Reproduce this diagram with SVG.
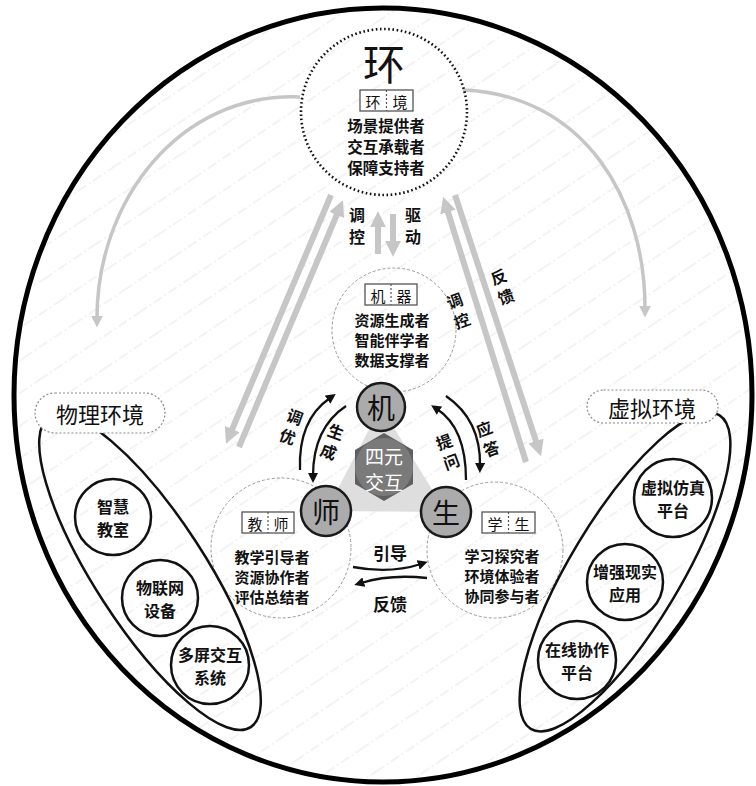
<svg xmlns="http://www.w3.org/2000/svg" width="756" height="786" viewBox="0 0 756 786">
<defs>
<pattern id="hatch" patternUnits="userSpaceOnUse" width="60" height="27" patternTransform="rotate(-34)">
<line x1="0" y1="13" x2="60" y2="13" stroke="#e4e4e4" stroke-width="0.9" stroke-dasharray="10 3 2 3"/>
</pattern>
<marker id="gh" viewBox="0 0 10 10" refX="2" refY="5" markerWidth="16" markerHeight="16" markerUnits="userSpaceOnUse" orient="auto">
<path d="M0,0 L10,5 L0,10 z" fill="#c6c6c6"/>
</marker>
<marker id="gs" viewBox="0 0 10 10" refX="2" refY="5" markerWidth="12" markerHeight="12" markerUnits="userSpaceOnUse" orient="auto">
<path d="M0,0 L10,5 L0,10 z" fill="#c6c6c6"/>
</marker>
<marker id="bh" viewBox="0 0 10 10" refX="3" refY="5" markerWidth="10" markerHeight="10" markerUnits="userSpaceOnUse" orient="auto">
<path d="M0,0 L10,5 L0,10 z" fill="#111"/>
</marker>
<style>
.lbl{font-family:"Noto Sans CJK SC","Noto Sans",sans-serif;font-weight:700;font-size:16px;fill:#111;text-anchor:middle;dominant-baseline:central}
.ln{font-size:15px}
.reg{font-family:"Noto Sans CJK SC","Noto Sans",sans-serif;font-weight:400;fill:#111;text-anchor:middle;dominant-baseline:central}
.big{font-size:28px}
.dash{fill:none;stroke:#9a9a9a;stroke-width:1;stroke-dasharray:3 2}
.role{fill:#fff;stroke:#555;stroke-width:1.3}
.div{stroke:#555;stroke-width:1.2;stroke-dasharray:2 2}
.node{fill:#ababab;stroke:#1a1a1a;stroke-width:2.5}
.item{fill:none;stroke:#111;stroke-width:2.5}
.env{fill:none;stroke:#111;stroke-width:2.5}
.tag{fill:#fff;stroke:#8a8a8a;stroke-width:1.2;stroke-dasharray:2 2}
.garrow{fill:none;stroke:#c6c6c6;stroke-width:6}
.garc{fill:none;stroke:#c6c6c6;stroke-width:3.5}
.barrow{fill:none;stroke:#111;stroke-width:2.3}
</style>
</defs>
<rect width="756" height="786" fill="#fff"/>
<ellipse cx="383" cy="395" rx="369" ry="387" fill="url(#hatch)"/>
<ellipse id="outer" cx="383" cy="395" rx="369" ry="387" fill="none" stroke="#000" stroke-width="5"/>

<g id="connectors">
<line class="garrow" x1="378" y1="254" x2="378" y2="224" marker-end="url(#gh)"/>
<line class="garrow" x1="393" y1="214" x2="393" y2="244" marker-end="url(#gh)"/>
<line class="garrow" x1="331" y1="195" x2="231" y2="432" marker-end="url(#gh)"/>
<line class="garrow" x1="239" y1="447" x2="338" y2="212" marker-end="url(#gh)"/>
<line class="garrow" x1="526" y1="462" x2="447" y2="209" marker-end="url(#gh)"/>
<line class="garrow" x1="455" y1="195" x2="537" y2="444" marker-end="url(#gh)"/>
<path class="garc" d="M300,97 C180,92 97,200 97,318" marker-end="url(#gs)"/>
<path class="garc" d="M463,90 C585,95 645,200 645,308" marker-end="url(#gs)"/>
<path class="barrow" d="M300,470 Q298,420 330,398" marker-end="url(#bh)"/>
<path class="barrow" d="M346,406 Q313,428 313,476" marker-end="url(#bh)"/>
<path class="barrow" d="M466,480 Q466,428 437,409" marker-end="url(#bh)"/>
<path class="barrow" d="M446,396 Q481,420 480,466" marker-end="url(#bh)"/>
<path class="barrow" d="M353,567 Q390,574 421,564" marker-end="url(#bh)"/>
<path class="barrow" d="M427,578 Q390,574 361,583" marker-end="url(#bh)"/>
<text class="lbl"><tspan x="357" y="214">调</tspan><tspan x="357" y="236">控</tspan></text>
<text class="lbl"><tspan x="413" y="214">驱</tspan><tspan x="413" y="236">动</tspan></text>
<text class="lbl" transform="rotate(-20 458 310)"><tspan x="458" y="299.5">调</tspan><tspan x="458" y="320.5">控</tspan></text>
<text class="lbl" transform="rotate(-20 502 286)"><tspan x="502" y="275.5">反</tspan><tspan x="502" y="296.5">馈</tspan></text>
<text class="lbl" transform="rotate(20 291.5 426)"><tspan x="291.5" y="415.5">调</tspan><tspan x="291.5" y="436.5">优</tspan></text>
<text class="lbl" transform="rotate(20 332.5 441)"><tspan x="332.5" y="430.5">生</tspan><tspan x="332.5" y="451.5">成</tspan></text>
<text class="lbl" transform="rotate(-20 447.5 451)"><tspan x="447.5" y="440.5">提</tspan><tspan x="447.5" y="461.5">问</tspan></text>
<text class="lbl" transform="rotate(-20 487.5 438)"><tspan x="487.5" y="427.5">应</tspan><tspan x="487.5" y="448.5">答</tspan></text>
<text class="lbl" x="390" y="552" style="font-size:17px">引导</text>
<text class="lbl" x="390" y="603" style="font-size:17px">反馈</text>
</g>

<g id="env-node">
<circle cx="384" cy="112" r="83" fill="none" stroke="#111" stroke-width="2.6" stroke-dasharray="1.6 2.6"/>
<text class="reg" x="384" y="61" style="font-size:42px">环</text>
<rect class="role" x="360" y="90" width="53" height="21"/>
<line class="div" x1="386.5" y1="90" x2="386.5" y2="111"/>
<text class="reg" style="font-size:15px"><tspan x="373" y="100.5">环</tspan><tspan x="400" y="100.5">境</tspan></text>
<text class="lbl" style="font-size:15.5px"><tspan x="386" y="125">场景提供者</tspan><tspan x="386" y="146">交互承载者</tspan><tspan x="386" y="167">保障支持者</tspan></text>
</g>

<g id="machine-role">
<circle class="dash" cx="394" cy="330" r="62"/>
<rect class="role" x="365" y="284" width="52" height="21"/>
<line class="div" x1="391" y1="284" x2="391" y2="305"/>
<text class="reg" style="font-size:15px"><tspan x="378" y="294.5">机</tspan><tspan x="404" y="294.5">器</tspan></text>
<text class="lbl ln"><tspan x="392" y="319">资源生成者</tspan><tspan x="392" y="339">智能伴学者</tspan><tspan x="392" y="359">数据支撑者</tspan></text>
</g>

<g id="teacher-role">
<circle class="dash" cx="281" cy="548" r="70"/>
<rect class="role" x="242" y="512" width="52" height="21"/>
<line class="div" x1="268" y1="512" x2="268" y2="533"/>
<text class="reg" style="font-size:15px"><tspan x="255" y="522.5">教</tspan><tspan x="281" y="522.5">师</tspan></text>
<text class="lbl ln"><tspan x="272" y="556">教学引导者</tspan><tspan x="272" y="576">资源协作者</tspan><tspan x="272" y="596">评估总结者</tspan></text>
</g>

<g id="student-role">
<circle class="dash" cx="495" cy="550" r="68"/>
<rect class="role" x="482" y="512" width="53" height="21"/>
<line class="div" x1="508.5" y1="512" x2="508.5" y2="533"/>
<text class="reg" style="font-size:15px"><tspan x="495" y="522.5">学</tspan><tspan x="522" y="522.5">生</tspan></text>
<text class="lbl ln"><tspan x="502" y="555">学习探究者</tspan><tspan x="502" y="575">环境体验者</tspan><tspan x="502" y="595">协同参与者</tspan></text>
</g>

<g id="core">
<polygon points="381,407 326,511 446,512" fill="#dedede"/>
<polygon points="384,433 413,450 413,484 384,501 355,484 355,450" fill="#5f5f5f"/>
<circle cx="384" cy="467" r="29" fill="#7a7a7a"/>
<text class="reg" style="font-size:19px;fill:#fff"><tspan x="384" y="455">四元</tspan><tspan x="384" y="481">交互</tspan></text>
</g>

<g id="node-machine">
<circle class="node" cx="381" cy="407" r="24"/>
<text class="reg big" x="381" y="407">机</text>
</g>
<g id="node-teacher">
<circle class="node" cx="326" cy="511" r="25"/>
<text class="reg big" x="326" y="511">师</text>
</g>
<g id="node-student">
<circle class="node" cx="446" cy="512" r="25"/>
<text class="reg big" x="446" y="512">生</text>
</g>

<g id="physical-env">
<ellipse class="env" cx="150" cy="572" rx="185" ry="55" transform="rotate(57 150 572)"/>
<rect class="tag" x="35" y="393" width="130" height="40" rx="20"/>
<text class="reg" x="100" y="413" style="font-size:22px">物理环境</text>
<g id="smart-classroom">
<circle class="item" cx="113" cy="517" r="38"/>
<text class="lbl"><tspan x="113" y="506">智慧</tspan><tspan x="113" y="529">教室</tspan></text>
</g>
<g id="iot-device">
<circle class="item" cx="160" cy="598" r="38"/>
<text class="lbl"><tspan x="160" y="587">物联网</tspan><tspan x="160" y="610">设备</tspan></text>
</g>
<g id="multiscreen">
<circle class="item" cx="210" cy="665" r="39"/>
<text class="lbl"><tspan x="210" y="654">多屏交互</tspan><tspan x="210" y="677">系统</tspan></text>
</g>
</g>

<g id="virtual-env">
<ellipse class="env" cx="625" cy="572" rx="183" ry="55" transform="rotate(121 625 572)"/>
<rect class="tag" x="587" y="390" width="131" height="33" rx="16.5"/>
<text class="reg" x="652" y="406.5" style="font-size:22px">虚拟环境</text>
<g id="sim-platform">
<circle class="item" cx="673" cy="498" r="39"/>
<text class="lbl"><tspan x="673" y="487">虚拟仿真</tspan><tspan x="673" y="510">平台</tspan></text>
</g>
<g id="ar-app">
<circle class="item" cx="625" cy="582" r="38"/>
<text class="lbl"><tspan x="625" y="571">增强现实</tspan><tspan x="625" y="594">应用</tspan></text>
</g>
<g id="online-platform">
<circle class="item" cx="577" cy="660" r="39"/>
<text class="lbl"><tspan x="577" y="649">在线协作</tspan><tspan x="577" y="672">平台</tspan></text>
</g>
</g>
</svg>
